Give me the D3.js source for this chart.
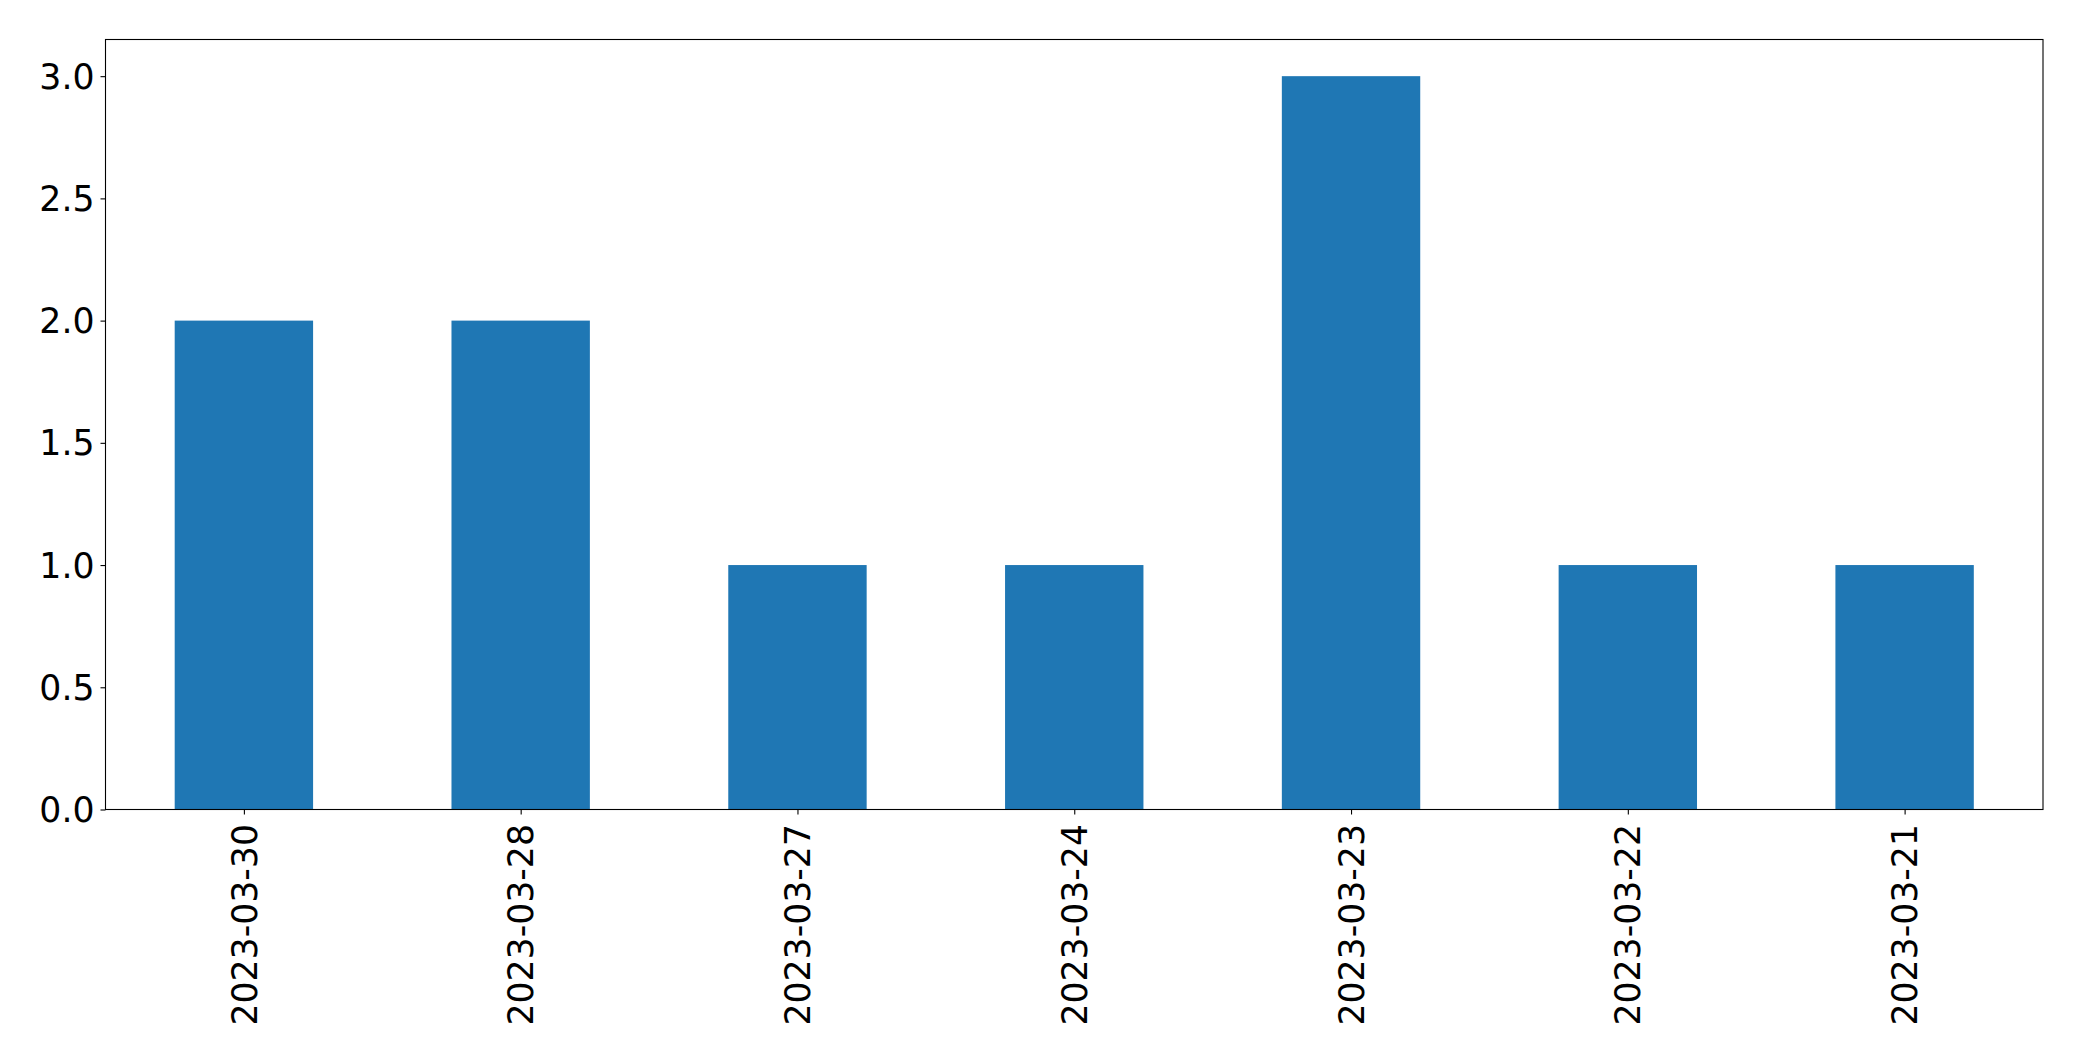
<!DOCTYPE html>
<html>
<head>
<meta charset="utf-8">
<script src="https://cdn.jsdelivr.net/npm/d3@7"></script>
<style>
  html, body { margin: 0; padding: 0; background: #fff; }
  svg { display: block; }
  text { font-family: "DejaVu Sans", sans-serif; fill: #000; }
</style>
</head>
<body>
<svg id="chart" width="2082" height="1061"></svg>
<script>
const categories = ["2023-03-30", "2023-03-28", "2023-03-27", "2023-03-24", "2023-03-23", "2023-03-22", "2023-03-21"];
const values = [2, 2, 1, 1, 3, 1, 1];
const yTicks = [0, 0.5, 1, 1.5, 2, 2.5, 3];

const W = 2082, H = 1061;
const margin = { left: 105.5, right: 2043, top: 39.5, bottom: 809.5 };
const fontSize = 34.7;

const svg = d3.select("#chart");

const x = d3.scaleLinear().domain([-0.5, categories.length - 0.5]).range([margin.left, margin.right]);
const y = d3.scaleLinear().domain([0, 3.15]).range([margin.bottom, margin.top]);
const barW = 0.5;

svg.append("g").selectAll("rect")
  .data(values)
  .join("rect")
  .attr("x", (d, i) => x(i - barW / 2))
  .attr("width", (d, i) => x(i + barW / 2) - x(i - barW / 2))
  .attr("y", d => y(d))
  .attr("height", d => y(0) - y(d))
  .attr("fill", "#1f77b4");

// Y axis
const yAxis = d3.axisLeft(y).tickValues(yTicks).tickFormat(d3.format(".1f")).tickSize(5).tickPadding(6);
const gy = svg.append("g").attr("transform", `translate(${margin.left},0)`).call(yAxis);
gy.select(".domain").remove();
gy.selectAll(".tick line").attr("stroke", "#000").attr("stroke-width", 1.1);
gy.selectAll(".tick text").style("font-size", fontSize + "px").attr("font-family", "DejaVu Sans").attr("dy", "0.35em");

// X axis
const xAxis = d3.axisBottom(x).tickValues(d3.range(categories.length)).tickFormat(i => categories[i]).tickSize(5).tickPadding(6);
const gx = svg.append("g").attr("transform", `translate(0,${margin.bottom})`).call(xAxis);
gx.select(".domain").remove();
gx.selectAll(".tick line").attr("stroke", "#000").attr("stroke-width", 1.1);
gx.selectAll(".tick text")
  .style("font-size", fontSize + "px")
  .attr("font-family", "DejaVu Sans")
  .attr("text-anchor", "end")
  .attr("transform", "translate(0,14.5) rotate(-90)")
  .attr("x", 0)
  .attr("y", 0)
  .attr("dy", "0.35em");

// Frame
svg.append("rect")
  .attr("x", margin.left).attr("y", margin.top)
  .attr("width", margin.right - margin.left)
  .attr("height", margin.bottom - margin.top)
  .attr("fill", "none").attr("stroke", "#000").attr("stroke-width", 1.1);
</script>
</body>
</html>
